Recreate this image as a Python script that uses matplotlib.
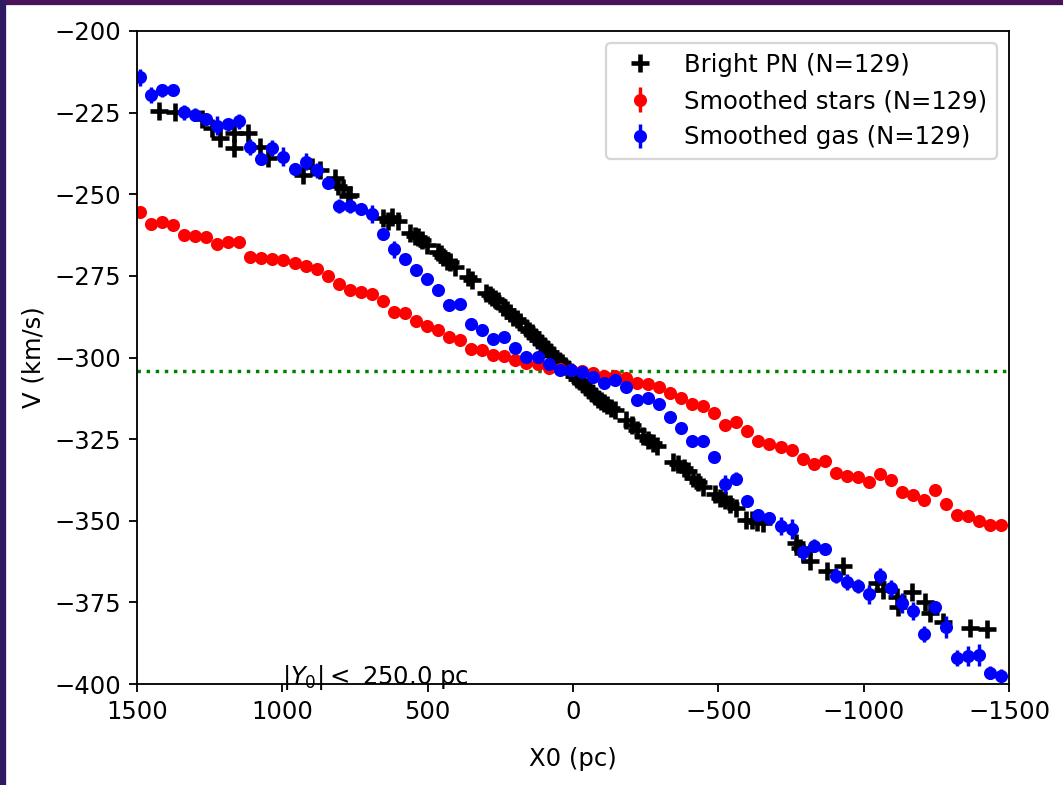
import matplotlib
matplotlib.use('Agg')
import matplotlib.pyplot as plt
from matplotlib.patches import Rectangle

plt.rcParams['font.size'] = 10.6

# grid of the smoothed curves (pc)
x_grid = [1490, 1452, 1414, 1376, 1338, 1300, 1262, 1224, 1186, 1148,
          1110, 1072, 1034, 996, 958, 920, 882, 844, 806, 768,
          730, 692, 654, 616, 578, 540, 502, 464, 426, 388,
          350, 312, 274, 236, 198, 160, 122, 84, 46, 8,
          -30, -68, -106, -144, -182, -220, -258, -296, -334, -372,
          -410, -448, -486, -524, -562, -600, -638, -676, -714, -752,
          -790, -828, -866, -904, -942, -980, -1018, -1056, -1094, -1132,
          -1170, -1208, -1246, -1284, -1322, -1360, -1398, -1436, -1474]

v_stars = [-255.3, -259.1, -258.6, -259.3, -262.5, -262.8, -263.0, -265.3, -264.7, -264.5,
           -269.1, -269.4, -269.8, -270.2, -271.0, -272.0, -272.8, -275.0, -277.6, -279.3,
           -280.0, -280.6, -282.7, -286.0, -286.3, -288.8, -290.3, -291.7, -293.8, -294.5,
           -297.5, -297.8, -299.2, -299.5, -300.8, -301.8, -302.1, -303.1, -303.5, -303.8,
           -304.2, -304.6, -305.6, -305.7, -306.4, -307.9, -308.2, -309.1, -311.0, -312.4,
           -314.2, -314.8, -317.1, -320.6, -319.8, -322.5, -325.5, -326.4, -327.3, -328.3,
           -331.1, -332.6, -331.8, -335.5, -336.3, -336.7, -338.1, -335.6, -337.6, -341.1,
           -342.0, -343.6, -340.5, -344.9, -348.2, -348.5, -350.1, -351.3, -351.3]

v_gas = [-214.2, -219.6, -218.1, -218.1, -224.9, -225.7, -227.0, -229.0, -228.6, -227.7,
         -235.6, -239.1, -235.9, -238.5, -242.3, -240.0, -242.6, -246.5, -253.6, -253.6,
         -254.6, -256.0, -262.3, -266.9, -269.7, -273.3, -276.0, -279.2, -283.8, -283.7,
         -289.6, -291.7, -294.4, -293.8, -297.2, -299.9, -299.7, -302.1, -303.9, -303.9,
         -304.4, -306.1, -307.7, -307.0, -308.9, -312.9, -312.3, -314.2, -318.2, -321.7,
         -325.5, -325.5, -330.6, -338.8, -337.2, -344.1, -348.1, -349.2, -351.6, -352.6,
         -359.6, -357.7, -358.7, -366.8, -368.8, -370.0, -372.5, -366.9, -370.7, -375.3,
         -377.6, -384.6, -376.5, -382.5, -392.0, -391.5, -391.1, -396.5, -397.4]

err_gas = [2.5, 2.6, 2.0, 1.2, 2.3, 2.0, 1.5, 2.9, 1.2, 2.4,
           2.4, 2.0, 2.5, 2.9, 1.8, 2.5, 2.3, 1.2, 2.0, 2.0,
           1.3, 2.7, 1.8, 2.5, 0.8, 0.8, 0.8, 0.8, 0.8, 0.8,
           0.8, 0.8, 0.8, 0.8, 0.8, 0.8, 0.8, 0.8, 0.8, 0.8,
           0.8, 0.8, 0.8, 0.8, 0.8, 0.8, 0.8, 0.8, 0.8, 0.8,
           0.8, 0.8, 0.8, 2.7, 2.0, 1.2, 1.2, 1.8, 2.8, 3.1,
           2.3, 2.0, 1.2, 2.4, 2.4, 2.1, 2.9, 2.3, 2.6, 3.1,
           2.7, 2.4, 2.0, 3.4, 2.5, 3.1, 3.4, 2.0, 2.0]
err_stars = 0.5

# bright PNe
pn_x = [1424, 1369, 1276, 1242, 1214, 1166, 1166, 1118, 1077, 1049, 929, 898, 870, 819, 808, 791, 774, 767,
        654, 636, 623, 602, 561, 544, 533, 520, 502, 464, 454, 447, 433, 423, 406, 361, 347,
        299, 286, 279, 268, 258, 241, 227, 217, 206, 193, 182,
        162, 151, 141, 131, 120, 110, 100, 89, 79, 69, 58, 48, 38, 28, 17, 7,
        -3, -14, -24, -34, -45, -55, -65, -76, -86, -96, -107, -117, -131, -144,
        -182, -203, -220, -241, -258, -275, -289,
        -344, -361, -382, -396, -413, -430, -447, -489, -506, -523, -540, -561,
        -595, -616, -633, -654, -767, -781, -791, -815, -874, -929,
        -1046, -1067, -1115, -1118, -1166, -1211, -1228, -1273, -1366, -1424]
pn_v = [-224.5, -224.8, -227.0, -229.7, -232.8, -231.2, -235.8, -231.2, -235.5, -238.9, -244.1, -241.7, -242.6, -245.0, -247.5, -248.1, -250.5, -250.2,
        -257.3, -258.2, -257.0, -258.2, -261.9, -262.8, -263.1, -264.0, -265.5, -267.7, -268.3, -269.2, -270.4, -270.8, -272.3, -275.3, -276.3,
        -280.2, -280.9, -281.5, -282.1, -282.7, -284.5, -285.5, -286.4, -287.6, -288.2, -289.1,
        -291.0, -291.9, -292.5, -293.7, -294.6, -295.6, -296.5, -297.4, -298.3, -299.2, -300.5, -301.1, -301.7, -302.6, -303.5, -304.4,
        -305.7, -306.6, -307.2, -308.1, -309.0, -310.0, -310.9, -311.8, -312.7, -313.3, -313.9, -314.5, -315.5, -316.1,
        -319.1, -320.7, -322.2, -324.0, -325.3, -326.2, -327.1,
        -332.0, -332.6, -333.8, -334.8, -336.9, -338.1, -339.7, -341.8, -343.0, -343.6, -344.9, -346.1,
        -349.8, -349.8, -350.4, -350.7, -356.8, -358.3, -359.9, -362.3, -365.4, -363.9,
        -369.1, -371.2, -373.4, -376.4, -371.8, -374.9, -378.3, -381.0, -382.9, -383.2]

v_sys = -304.0

fig = plt.figure(figsize=(1063 / 165, 785 / 165), dpi=165)
# purple screenshot frame
fig.patches.append(Rectangle((0, 1 - 4 / 785), 1, 4 / 785, transform=fig.transFigure,
                             color='#4a1259', zorder=0))
fig.patches.append(Rectangle((0, 0), 5 / 1063, 1, transform=fig.transFigure,
                             color='#2f1b62', zorder=0))

ax = fig.add_axes([137 / 1063, 1 - 684 / 785, 872 / 1063, 653 / 785])

ax.plot(pn_x, pn_v, 'k+', ms=7.5, mew=2, label='Bright PN (N=129)')
ax.errorbar(x_grid, v_stars, yerr=err_stars, fmt='o', color='red', ms=4.7,
            label='Smoothed stars (N=129)')
ax.errorbar(x_grid, v_gas, yerr=err_gas, fmt='o', color='blue', ms=4.7,
            label='Smoothed gas (N=129)')
ax.axhline(v_sys, color='green', ls=':', lw=1.5)

ax.text(1000, -400, r'$|Y_0| <$ 250.0 pc')

ax.set_xlim(1500, -1500)
ax.set_ylim(-400, -200)
ax.set_xlabel('X0 (pc)', labelpad=10)
ax.set_ylabel('V (km/s)', labelpad=4)
ax.legend(loc='upper right')

plt.savefig('out.png', dpi=165)
